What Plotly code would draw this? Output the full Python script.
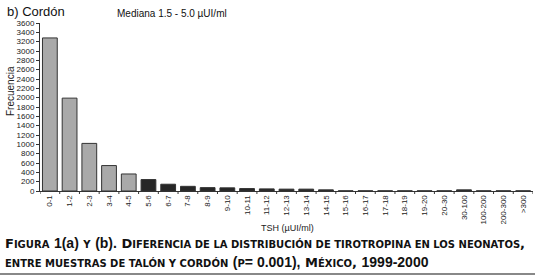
import plotly.graph_objects as go

categories = ["0-1", "1-2", "2-3", "3-4", "4-5", "5-6", "6-7", "7-8", "8-9", "9-10",
              "10-11", "11-12", "12-13", "13-14", "14-15", "15-16", "16-17", "17-18",
              "18-19", "19-20", "20-30", "30-100", "100-200", "200-300", "&gt;300"]
frecuencia = [3280, 1990, 1020, 545, 365, 245, 145, 100, 72, 68,
              52, 45, 40, 40, 25, 5, 5, 5,
              5, 5, 5, 25, 5, 5, 5]
anormal = [False]*5 + [True]*10 + [False]*6 + [True] + [False]*3
y_ticks = list(range(0, 3601, 200))

GRAY = "#a9a9a9"
DARK = "#262626"
colors = [DARK if a else GRAY for a in anormal]

W, H = 535, 276
L, R, T, B = 40, 2, 23, 85
PW, PH = W - L - R, H - T - B

def px(x):
    return (x - L) / PW

def py(y):
    return 1 - (y - T) / PH

fig = go.Figure()
fig.add_trace(go.Bar(
    x=list(range(len(categories))), y=frecuencia,
    marker=dict(color=colors, line=dict(color="#333333", width=1)),
    width=0.75,
))

FONT = "Liberation Sans"
CAPFONT = "DejaVu Sans"

def sm(t):
    return "<span style='font-size:10px'>" + t + "</span>"

def nf(t):
    return "<span style='font-family:Liberation Sans;font-size:14px'>" + t + "</span>"

line1 = ("F" + sm("IGURA") + " " + nf("1(a)") + " " + sm("Y") + " " + nf("(b).") + " D" +
         sm("IFERENCIA DE LA DISTRIBUCIÓN DE TIROTROPINA EN LOS NEONATOS") + ",")
line2 = (sm("ENTRE MUESTRAS DE TALÓN Y CORDÓN") + " " + nf("(") + sm("P") + nf("= 0.001),") + " M" +
         sm("ÉXICO") + ", " + nf("1999-2000"))

def ann(text, x, y, size, xanchor="left", angle=0, color="#111111", family=FONT):
    return dict(text=text, x=px(x), y=py(y), xref="paper", yref="paper",
                xanchor=xanchor, yanchor="middle", showarrow=False, textangle=angle,
                font=dict(size=size, family=family, color=color))

fig.update_layout(
    width=W, height=H,
    margin=dict(l=L, r=R, t=T, b=B, autoexpand=False),
    paper_bgcolor="white", plot_bgcolor="white",
    showlegend=False,
    font=dict(family=FONT, color="#222222", size=8),
    xaxis=dict(
        tickmode="array", tickvals=list(range(len(categories))), ticktext=categories,
        tickangle=-90, tickfont=dict(size=8, family=FONT),
        showline=True, linecolor="#333333", linewidth=1,
        ticks="", showgrid=False, zeroline=False,
        range=[-0.5, len(categories) - 0.5], automargin=False,
    ),
    yaxis=dict(
        range=[0, 3600], tickmode="array", tickvals=y_ticks, tickfont=dict(size=8, family=FONT),
        showline=True, linecolor="#333333", linewidth=1,
        ticks="outside", ticklen=3, tickcolor="#333333",
        showgrid=False, zeroline=False, automargin=False,
    ),
    annotations=[
        ann("b) Cordón", 5, 11, 13),
        ann("Mediana 1.5 - 5.0 µUI/ml", 172, 14, 10, xanchor="center"),
        ann("Frecuencia", 10, 91, 10, xanchor="center", angle=-90, color="#222222"),
        ann("TSH (µUI/ml)", 287, 228, 9, xanchor="center", color="#222222"),
        ann("<b>" + line1 + "</b>", 3, 243, 13, family=CAPFONT),
        ann("<b>" + line2 + "</b>", 3, 262, 13, family=CAPFONT),
    ],
    shapes=[dict(type="line", xref="paper", yref="paper", x0=px(0), x1=px(W),
                 y0=py(274), y1=py(274), line=dict(color="#888888", width=2))],
)

# x ticks at category boundaries
for i in range(len(categories) + 1):
    fig.add_shape(type="line", xref="x", yref="paper", x0=i - 0.5, x1=i - 0.5,
                  y0=0, y1=py(194), line=dict(color="#333333", width=1))

fig.write_html("out.html", config={"displayModeBar": False},
               post_script="document.body.style.margin='0';document.body.style.padding='0';")
